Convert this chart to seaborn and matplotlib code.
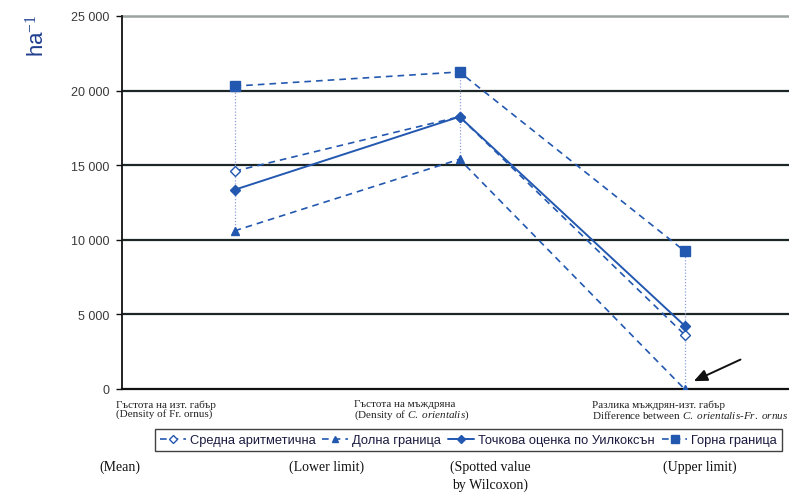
import numpy as np
import pandas as pd
import matplotlib
matplotlib.use("Agg")
import matplotlib.pyplot as plt
import seaborn as sns

# Categories (two-line labels under the x axis)
categories = [
    "Гъстота на изт. габър\n(Density of Fr. ornus)",
    "Гъстота на мъждряна\n(Density of $\\it{C.}$ $\\it{orientalis)}$",
    "Разлика мъждрян-изт. габър\nDifference between $\\it{C.}$ $\\it{orientalis}$-$\\it{Fr.}$ $\\it{ornus}$",
]

# Series values, trees per ha
mean_vals = [14600, 18250, 3650]
lower_vals = [10600, 15400, 0]
wilcoxon_vals = [13350, 18250, 4250]
upper_vals = [20300, 21250, 9250]

series_names = ["Средна аритметична", "Долна граница",
                "Точкова оценка по Уилкоксън", "Горна граница"]
english_names = ["(Mean)", "(Lower limit)", "(Spotted value\nby Wilcoxon)", "(Upper limit)"]

yticks = [0, 5000, 10000, 15000, 20000, 25000]
ytick_labels = ["0", "5 000", "10 000", "15 000", "20 000", "25 000"]

sns.set_style("white")
plt.rcParams["font.family"] = ["Liberation Sans", "DejaVu Sans"]
plt.rcParams["mathtext.fontset"] = "custom"
plt.rcParams["mathtext.rm"] = "Liberation Serif"
plt.rcParams["mathtext.it"] = "Liberation Serif:italic"

blue = "#2358b0"
W, H = 789, 502
fig = plt.figure(figsize=(W / 100, H / 100), dpi=100)
ax = fig.add_axes([122 / W, (H - 390) / H, 675 / W, 373 / H])

x = np.arange(len(categories))
df = pd.DataFrame({
    "x": np.tile(x, 4),
    "value": mean_vals + lower_vals + wilcoxon_vals + upper_vals,
    "series": np.repeat(series_names, len(categories)),
})

# high-low dotted droplines between upper and lower limits
for xi, lo, hi in zip(x, lower_vals, upper_vals):
    ax.vlines(xi, lo, hi, colors="#8c9fd8", linestyles=(0, (1, 1.5)), linewidth=0.9, zorder=2)

styles = {
    "Средна аритметична": dict(dashes=(4, 3), marker="D", ms=5, mfc="white", lw=1.2),
    "Долна граница": dict(dashes=(4, 3), marker="^", ms=6, mfc=blue, lw=1.2),
    "Точкова оценка по Уилкоксън": dict(dashes=None, marker="D", ms=5, mfc=blue, lw=1.4),
    "Горна граница": dict(dashes=(4, 3), marker="s", ms=7, mfc=blue, lw=1.2),
}
handles = []
for name in series_names:
    st = styles[name]
    sub = df[df["series"] == name]
    sns.lineplot(data=sub, x="x", y="value", ax=ax, color=blue, linewidth=st["lw"],
                 marker=st["marker"], markersize=st["ms"], markerfacecolor=st["mfc"],
                 markeredgecolor=blue, markeredgewidth=1.0, zorder=4, legend=False)
    line = ax.lines[-1]
    if st["dashes"] is not None:
        line.set_dashes(st["dashes"])
    handles.append(line)

ax.set_xlim(-0.5, 2.5)
ax.set_ylim(0, 25000)

# horizontal gridlines
for yv in yticks[1:-1]:
    ax.axhline(yv, color="#1c2626", linewidth=1.6, zorder=1)
ax.axhline(25000, color="#9aa3a0", linewidth=1.8, zorder=1, clip_on=False)

for s in ["top", "right"]:
    ax.spines[s].set_visible(False)
ax.spines["left"].set_color("#111111")
ax.spines["left"].set_linewidth(1.3)
ax.spines["bottom"].set_color("#111111")
ax.spines["bottom"].set_linewidth(1.6)

ax.set_yticks(yticks)
ax.set_yticklabels(ytick_labels, fontsize=9, color="#3a3a3a")
ax.tick_params(axis="y", direction="out", length=4, width=1, color="#111111", left=True, pad=5)
ax.set_xticks([])
ax.set_xlabel("")
ax.set_ylabel("")

# category labels under the axis
offsets = [-0.525, -0.47, -0.41]
for xi, lab, off in zip(x, categories, offsets):
    ax.text(xi + off, -0.027, lab, transform=ax.get_xaxis_transform(), ha="left", va="top",
            fontsize=8.0, family="Liberation Serif", color="#222222", linespacing=0.92)

# unit label
fig.text(37 / W, 1 - 36 / H, "ha$^{-1}$", rotation=90, fontsize=16, color="#1f3f8f",
         ha="center", va="center")

# arrow pointing at the zero lower limit
ax.annotate("", xy=(2.03, 450), xytext=(2.26, 2050),
            arrowprops=dict(arrowstyle="-|>,head_length=0.8,head_width=0.35",
                            color="#111111", lw=1.4))

# legend
leg = fig.legend(handles, series_names, loc="center", ncol=4,
                 bbox_to_anchor=((152 + 785) / 2 / W, 1 - 441 / H),
                 frameon=True, fancybox=False, edgecolor="#111111",
                 fontsize=9.3, handlelength=2.0, handletextpad=0.3, columnspacing=0.55,
                 borderpad=0.35, borderaxespad=0, markerscale=0.8)
leg.get_frame().set_linewidth(1.0)
for t in leg.get_texts():
    t.set_color("#1a1a40")

# english translations
eng_x = [120, 327, 490, 700]
for ex, txt in zip(eng_x, english_names):
    fig.text(ex / W, 1 - 461 / H, txt, ha="center", va="top", fontsize=10,
             family="Liberation Serif", color="#111111", linespacing=1.4)

fig.savefig("out.png", dpi=100)
